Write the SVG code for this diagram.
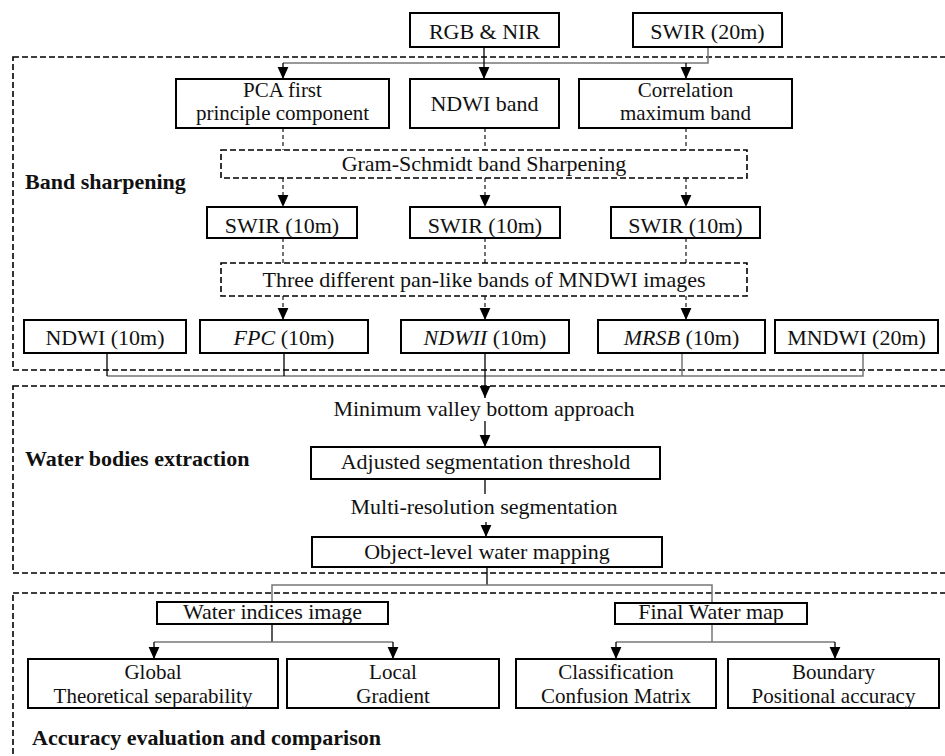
<svg xmlns="http://www.w3.org/2000/svg" width="945" height="756" viewBox="0 0 945 756">
<defs>
<marker id="ah" markerUnits="userSpaceOnUse" markerWidth="12" markerHeight="12" viewBox="0 0 10 10" refX="10" refY="5" orient="auto">
<path d="M0,0.5 L10,5 L0,9.5 z" fill="#000"/>
</marker>
</defs>
<style>
.box{fill:#fff;stroke:#000;stroke-width:2}
.dbox{fill:#fff;stroke:#000;stroke-width:1.6;stroke-dasharray:6,3}
.cont{fill:none;stroke:#000;stroke-width:1.6;stroke-dasharray:6,3}
.t{font-family:"Liberation Serif","Times New Roman",serif;font-size:22px;fill:#111;text-anchor:middle}
.t2{font-family:"Liberation Serif","Times New Roman",serif;font-size:21px;fill:#111;text-anchor:middle}
.b{font-family:"Liberation Serif","Times New Roman",serif;font-size:22px;font-weight:bold;fill:#111}
.bus{fill:none;stroke:#777;stroke-width:1.5}
.ln{fill:none;stroke:#000;stroke-width:1.3}
.dl{fill:none;stroke:#000;stroke-width:1.1;stroke-dasharray:4,3}
</style>
<rect width="945" height="756" fill="#fff"/>
<g id="containers">
<rect class="cont" x="13" y="57" width="940" height="313"/>
<rect class="cont" x="13" y="386" width="940" height="187"/>
<rect class="cont" x="13" y="593" width="940" height="180"/>
<text class="b" x="25" y="189">Band sharpening</text>
<text class="b" x="25" y="466">Water bodies extraction</text>
<text class="b" x="32" y="745">Accuracy evaluation and comparison</text>
</g>
<g id="connectors">
<polyline class="bus" points="708,47 708,63 283,63"/>
<line class="ln" x1="283" y1="63" x2="283" y2="79" marker-end="url(#ah)"/>
<line class="ln" x1="686" y1="63" x2="686" y2="79" marker-end="url(#ah)"/>
<line class="ln" x1="484" y1="47" x2="484" y2="79" marker-end="url(#ah)"/>
<line class="dl" x1="283" y1="128" x2="283" y2="150"/>
<line class="dl" x1="485" y1="128" x2="485" y2="150"/>
<line class="dl" x1="686" y1="128" x2="686" y2="150"/>
<line class="dl" x1="283" y1="178" x2="283" y2="207" marker-end="url(#ah)"/>
<line class="dl" x1="485" y1="178" x2="485" y2="207" marker-end="url(#ah)"/>
<line class="dl" x1="686" y1="178" x2="686" y2="207" marker-end="url(#ah)"/>
<line class="dl" x1="283" y1="238" x2="283" y2="263"/>
<line class="dl" x1="485" y1="238" x2="485" y2="263"/>
<line class="dl" x1="686" y1="238" x2="686" y2="263"/>
<line class="dl" x1="283" y1="296" x2="283" y2="320" marker-end="url(#ah)"/>
<line class="dl" x1="485" y1="296" x2="485" y2="320" marker-end="url(#ah)"/>
<line class="dl" x1="686" y1="296" x2="686" y2="320" marker-end="url(#ah)"/>
<polyline class="bus" points="107,376 863,376 863,353"/>
<line class="ln" x1="107" y1="353" x2="107" y2="376"/>
<line class="ln" x1="284" y1="353" x2="284" y2="376"/>
<line class="bus" x1="682" y1="353" x2="682" y2="376"/>
<line class="ln" x1="485" y1="353" x2="485" y2="398" marker-end="url(#ah)"/>
<line class="ln" x1="485" y1="421" x2="485" y2="447" marker-end="url(#ah)"/>
<line class="ln" x1="485" y1="479" x2="485" y2="494"/>
<line class="ln" x1="486" y1="522" x2="486" y2="537" marker-end="url(#ah)"/>
<line class="ln" x1="487" y1="567" x2="487" y2="585"/>
<polyline class="bus" points="272,602 272,585 712,585 712,603"/>
<line class="ln" x1="272" y1="624" x2="272" y2="642"/>
<polyline class="bus" points="154,642 393,642"/>
<line class="ln" x1="154" y1="642" x2="154" y2="659" marker-end="url(#ah)"/>
<line class="ln" x1="393" y1="642" x2="393" y2="659" marker-end="url(#ah)"/>
<line class="bus" x1="712" y1="624" x2="712" y2="642"/>
<polyline class="bus" points="616,642 835,642"/>
<line class="ln" x1="616" y1="642" x2="616" y2="659" marker-end="url(#ah)"/>
<line class="ln" x1="835" y1="642" x2="835" y2="659" marker-end="url(#ah)"/>
</g>
<g id="rgb"><rect class="box" x="410" y="13" width="149" height="34"/><text class="t" x="484.5" y="39">RGB &amp; NIR</text></g>
<g id="swir20"><rect class="box" x="633" y="13" width="149" height="34"/><text class="t" x="707.5" y="39">SWIR (20m)</text></g>
<g id="pca"><rect class="box" x="176" y="79" width="213" height="49"/><text class="t2" x="282.5" y="97">PCA first</text><text class="t2" x="282.5" y="120">principle component</text></g>
<g id="ndwiband"><rect class="box" x="410" y="79" width="149" height="49"/><text class="t" x="484.5" y="111">NDWI band</text></g>
<g id="corr"><rect class="box" x="579" y="79" width="213" height="49"/><text class="t2" x="685.5" y="97">Correlation</text><text class="t2" x="685.5" y="120">maximum band</text></g>
<g id="gs"><rect class="dbox" x="221" y="150" width="526" height="28"/><text class="t" x="484" y="171">Gram-Schmidt band Sharpening</text></g>
<g id="swir10a"><rect class="box" x="207" y="207" width="150" height="31"/><text class="t" x="282" y="233">SWIR (10m)</text></g>
<g id="swir10b"><rect class="box" x="410" y="207" width="150" height="31"/><text class="t" x="485" y="233">SWIR (10m)</text></g>
<g id="swir10c"><rect class="box" x="611" y="207" width="149" height="31"/><text class="t" x="685.5" y="233">SWIR (10m)</text></g>
<g id="three"><rect class="dbox" x="221" y="263" width="526" height="33"/><text class="t" x="484" y="287">Three different pan-like bands of MNDWI images</text></g>
<g id="ndwi10"><rect class="box" x="24" y="320" width="162" height="33"/><text class="t" x="105" y="345">NDWI (10m)</text></g>
<g id="fpc"><rect class="box" x="200" y="320" width="168" height="33"/><text class="t" x="284" y="345"><tspan font-style="italic">FPC</tspan> (10m)</text></g>
<g id="ndwii"><rect class="box" x="401" y="320" width="168" height="33"/><text class="t" x="485" y="345"><tspan font-style="italic">NDWII</tspan> (10m)</text></g>
<g id="mrsb"><rect class="box" x="598" y="320" width="167" height="33"/><text class="t" x="681.5" y="345"><tspan font-style="italic">MRSB</tspan> (10m)</text></g>
<g id="mndwi20"><rect class="box" x="775" y="320" width="163" height="33"/><text class="t" x="856.5" y="345">MNDWI (20m)</text></g>
<g id="mvb"><text class="t" x="484" y="416">Minimum valley bottom approach</text></g>
<g id="adj"><rect class="box" x="311" y="447" width="349" height="32"/><text class="t" x="485.5" y="469">Adjusted segmentation threshold</text></g>
<g id="mrs"><text class="t" x="484" y="514">Multi-resolution segmentation</text></g>
<g id="obj"><rect class="box" x="312" y="537" width="350" height="30"/><text class="t" x="487" y="559">Object-level water mapping</text></g>
<g id="wii"><rect class="box" x="157" y="602" width="231" height="22"/><text class="t" x="272.5" y="619">Water indices image</text></g>
<g id="fwm"><rect class="box" x="615" y="603" width="192" height="21"/><text class="t" x="711" y="619">Final Water map</text></g>
<g id="global"><rect class="box" x="28" y="659" width="250" height="49"/><text class="t2" x="153" y="679">Global</text><text class="t2" x="153" y="703">Theoretical separability</text></g>
<g id="local"><rect class="box" x="287" y="659" width="212" height="49"/><text class="t2" x="393" y="679">Local</text><text class="t2" x="393" y="703">Gradient</text></g>
<g id="class"><rect class="box" x="516" y="659" width="200" height="49"/><text class="t2" x="616" y="679">Classification</text><text class="t2" x="616" y="703">Confusion Matrix</text></g>
<g id="bound"><rect class="box" x="728" y="659" width="211" height="49"/><text class="t2" x="833.5" y="679">Boundary</text><text class="t2" x="833.5" y="703">Positional accuracy</text></g>
</svg>
